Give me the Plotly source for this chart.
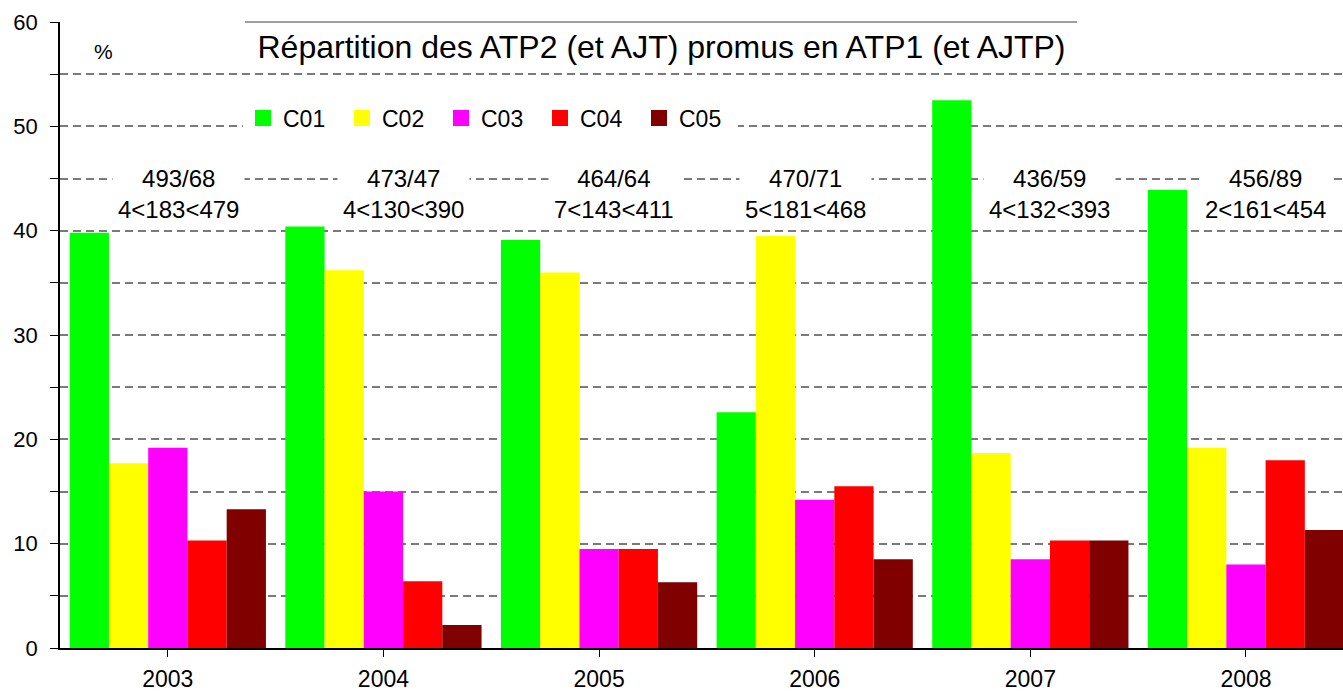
import plotly.graph_objects as go

years = ["2003", "2004", "2005", "2006", "2007", "2008"]
series_names = ["C01", "C02", "C03", "C04", "C05"]
colors = ["#00FF00", "#FFFF00", "#FF00FF", "#FF0000", "#800000"]

c01 = [39.8, 40.4, 39.1, 22.6, 52.5, 43.9]
c02 = [17.7, 36.2, 36.0, 39.5, 18.7, 19.2]
c03 = [19.2, 15.0, 9.5, 14.2, 8.5, 8.0]
c04 = [10.3, 6.4, 9.5, 15.5, 10.3, 18.0]
c05 = [13.3, 2.2, 6.3, 8.5, 10.3, 11.3]
values = [c01, c02, c03, c04, c05]

ratio_labels = ["493/68", "473/47", "464/64", "470/71", "436/59", "456/89"]
range_labels = ["4<183<479", "4<130<390", "7<143<411", "5<181<468", "4<132<393", "2<161<454"]
label_x = [0.05, 1.095, 2.07, 2.955, 4.087, 5.09]

FONT = "Liberation Sans, Arial, sans-serif"

# body margin removed via post_script: figure origin at window (0, 0)
OFF = 0
W, H = 1343, 692
L, T, B, R = 60, 22, 44, 0
PW, PH = W - L - R, H - T - B


def px_to_paper(wx, wy):
    return (wx - OFF - L) / PW, 1 - (wy - OFF - T) / PH


fig = go.Figure()
for name, col, vals in zip(series_names, colors, values):
    fig.add_trace(go.Bar(x=list(range(len(years))), y=vals, name=name,
                         marker=dict(color=col, line=dict(width=0)),
                         showlegend=False))
for name, col in zip(series_names, colors):
    fig.add_trace(go.Scatter(x=[None], y=[None], mode="markers", name=name,
                             marker=dict(symbol="square", size=16, color=col)))

for lx, r1, r2 in zip(label_x, ratio_labels, range_labels):
    fig.add_annotation(x=lx, y=43.5, xref="x", yref="y", text=r1 + "<br>" + r2,
                       showarrow=False, bgcolor="white", borderpad=5,
                       font=dict(family=FONT, size=24, color="black"))

px_, py_ = px_to_paper(103, 52)
fig.add_annotation(x=px_, y=py_, xref="paper", yref="paper", text="%", showarrow=False,
                   xanchor="center", yanchor="middle",
                   font=dict(family=FONT, size=21, color="black"))

lx0, _ = px_to_paper(243, 0)
_, ly0 = px_to_paper(0, 118)

yt = list(range(0, 61, 5))
fig.update_layout(
    width=W, height=H,
    margin=dict(l=L, r=R, t=T, b=B, autoexpand=False),
    paper_bgcolor="white", plot_bgcolor="white",
    barmode="group", bargap=0.09, bargroupgap=0,
    font=dict(family=FONT, color="black"),
    title=dict(text="Répartition des ATP2 (et AJT) promus en ATP1 (et AJTP)",
               x=(661.5 - OFF) / W, xanchor="center", y=1 - (47 - OFF) / H, yanchor="middle",
               font=dict(family=FONT, size=32, color="black")),
    legend=dict(orientation="h", x=lx0, xanchor="left",
                y=ly0, yanchor="middle", bgcolor="white",
                font=dict(family=FONT, size=23, color="black"),
                entrywidth=54, entrywidthmode="pixels", itemsizing="trace"),
    xaxis=dict(range=[-0.5, 5.45], tickmode="array", tickvals=list(range(6)), ticktext=years,
               tickson="boundaries", ticks="outside", ticklen=7, tickcolor="black",
               showline=True, linecolor="black", linewidth=1.5, showgrid=False,
               ticklabelstandoff=3,
               tickfont=dict(family=FONT, size=23, color="black"), zeroline=False),
    yaxis=dict(range=[0, 60], tickmode="array", tickvals=yt,
               ticktext=[str(v) if v % 10 == 0 else "" for v in yt],
               ticks="outside", ticklen=8, tickcolor="black",
               showline=True, linecolor="black", linewidth=1.5,
               showgrid=True, gridcolor="#7a7a7a", gridwidth=1.5, griddash="8px,5px",
               zeroline=False, ticklabelstandoff=8,
               tickfont=dict(family=FONT, size=22, color="black")),
)
sx0, _ = px_to_paper(245, 0)
sx1, _ = px_to_paper(1077, 0)
fig.add_shape(type="line", xref="paper", yref="paper", x0=sx0, x1=sx1,
              y0=1, y1=1, line=dict(color="#808080", width=1.3))

fig.write_html("out.html", config={"displayModeBar": False},
               post_script="document.body.style.margin='0';document.body.style.overflow='hidden';")
